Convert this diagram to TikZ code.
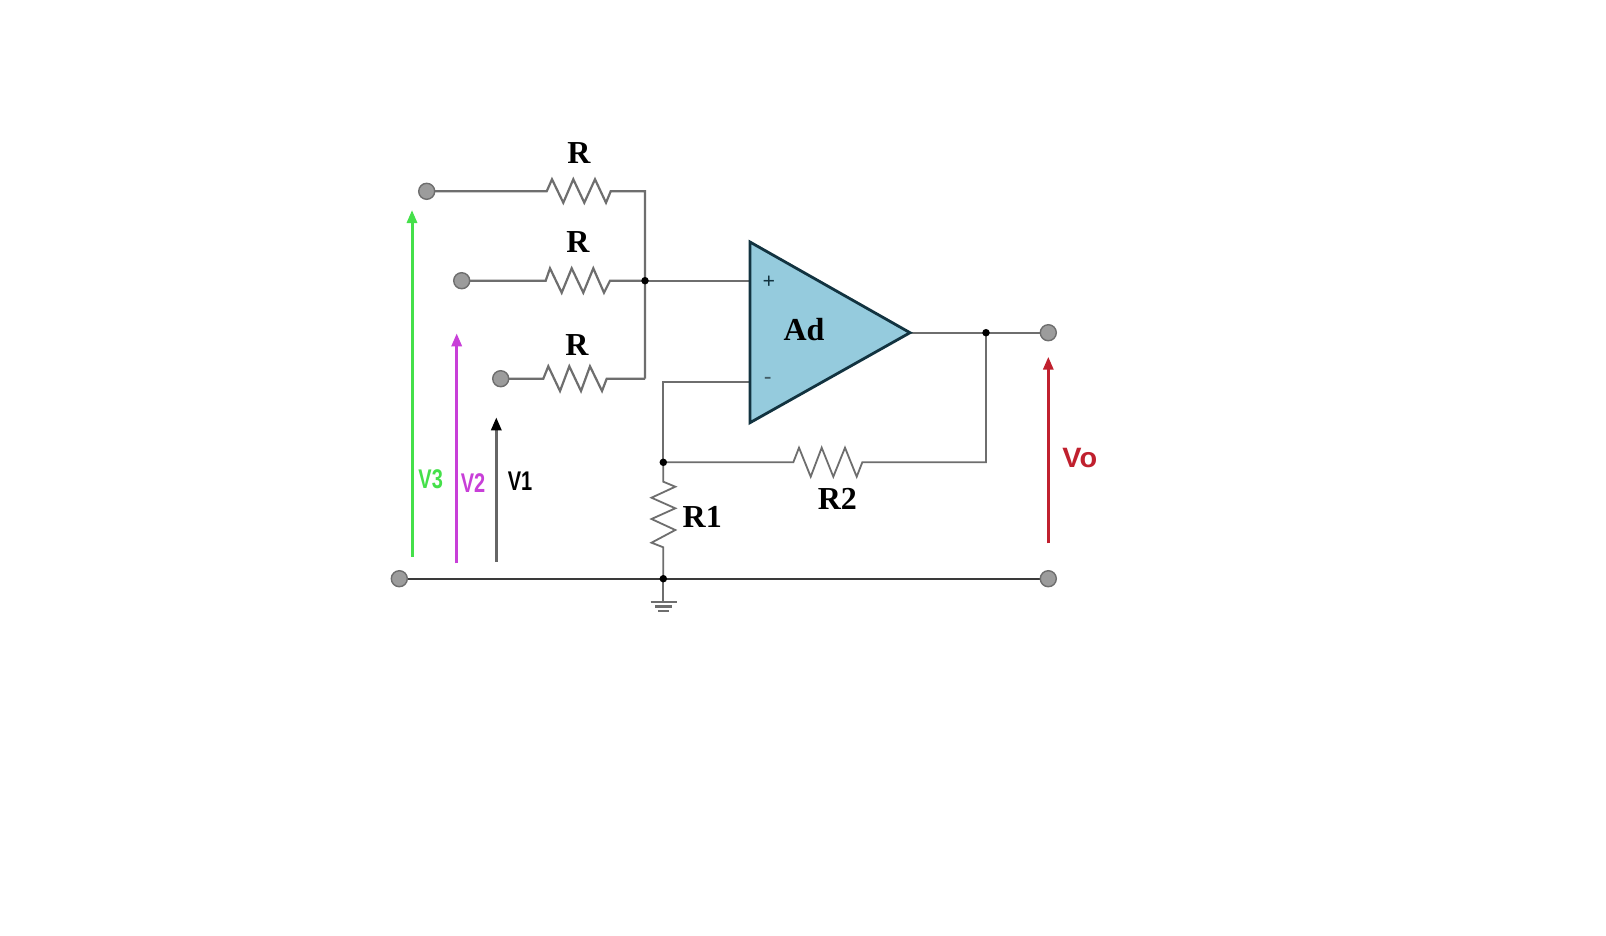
\documentclass[tikz,border=0pt]{standalone}
\usepackage{fontspec}
\setmainfont{Liberation Serif}
\newfontfamily\lsans{Liberation Sans}
\usetikzlibrary{arrows.meta,backgrounds}
\definecolor{wirec}{HTML}{6E6E6E}
\definecolor{darkw}{HTML}{3A3A3A}
\definecolor{ampfill}{HTML}{95CBDD}
\definecolor{ampedge}{HTML}{123340}
\definecolor{vgreen}{HTML}{45E04A}
\definecolor{vmag}{HTML}{C83FD8}
\definecolor{vred}{HTML}{C0202E}
\tikzset{
 x=1pt,y=-1pt,
 wire/.style={draw=wirec,line width=2.2pt,line join=miter},
 thin wire/.style={draw=wirec,line width=1.8pt,line join=miter},
 gnd wire/.style={draw=darkw,line width=2.4pt},
 terminal/.style={circle,draw=wirec,fill=gray!78,line width=1.4pt,minimum size=16pt,inner sep=0pt},
 junction/.style={circle,fill=black,minimum size=7.5pt,inner sep=0pt},
 rlabel/.style={inner sep=0pt,font=\fontsize{32}{32}\selectfont\bfseries,text=black},
 vlabel/.style={inner sep=0pt,font=\lsans\bfseries\fontsize{27}{27}\selectfont,xscale=0.74},
 varrow/.style={line width=3pt,-{Triangle[length=13pt,width=10pt]}},
}
\begin{document}
\begin{tikzpicture}
\useasboundingbox (0,0) rectangle (1606,935);

% nodes
\node[terminal] (t1) at (426.7,191.3) {};
\node[terminal] (t2) at (461.7,280.7) {};
\node[terminal] (t3) at (500.7,378.7) {};
\node[terminal] (tg) at (399.3,578.7) {};
\node[terminal] (to) at (1048.3,332.7) {};
\node[terminal] (tr) at (1048.3,578.7) {};
\coordinate (r1a) at (546.7,191.3);
\coordinate (r1b) at (610.7,191.3);
\coordinate (r2a) at (545.7,280.7);
\coordinate (r2b) at (610,280.7);
\coordinate (r3a) at (543.3,378.7);
\coordinate (r3b) at (606.7,378.7);
\coordinate (bt) at (645,191.3);
\coordinate (bb) at (645,378.7);
\node[junction] (jp) at (645,280.7) {};
\coordinate (ampt) at (750,242);
\coordinate (ampb) at (750,422.7);
\coordinate (ampo) at (910,332.7);
\coordinate (ampp) at (750,280.7);
\coordinate (ampm) at (750,381.7);
\coordinate (mc) at (663.3,381.7);
\node[junction] (jm) at (663.3,462.3) {};
\node[junction] (jo) at (986,332.7) {};
\coordinate (fbc) at (986,462.3);
\coordinate (r4a) at (793.3,462.3);
\coordinate (r4b) at (862.3,462.3);
\coordinate (r5a) at (663.3,481.7);
\coordinate (r5b) at (663.3,547.3);
\node[junction] (jg) at (663.3,578.7) {};
\coordinate (gt) at (663.3,601.7);

\begin{pgfonlayer}{background}
\fill[white] (0,0) rectangle (1606,935);
% wires with resistors
\draw[wire] (t1.center) -- (r1a) -- (552,179.3) -- (563.3,202.7) -- (573.3,179.3) -- (584.3,202.7) -- (595,179.3) -- (606,202.7) -- (r1b) -- (bt) -- (bb);
\draw[wire] (t2.center) -- (r2a) -- (550,268.3) -- (561.7,292.7) -- (571.7,268.3) -- (583.3,292.7) -- (593.3,268.3) -- (604,292.7) -- (r2b) -- (jp.center);
\draw[wire] (t3.center) -- (r3a) -- (548.3,366.3) -- (560,391) -- (569.3,366.3) -- (581,391) -- (590,366.3) -- (602,391) -- (r3b) -- (bb);
\draw[wire] (jp.center) -- (ampp);
\draw[wire] (ampm) -- (mc) -- (jm.center);
\draw[thin wire] (jm.center) -- (r4a) -- (799,447.7) -- (810.7,476.7) -- (821.7,447.7) -- (833.3,476.7) -- (845,447.7) -- (856.7,476.7) -- (r4b) -- (fbc) -- (jo.center);
\draw[wire] (ampo) -- (to.center);
\draw[thin wire] (jm.center) -- (r5a) -- (675.3,486.7) -- (651.5,497.7) -- (675.3,508.3) -- (651.5,519) -- (675.3,530) -- (651.5,542.7) -- (r5b) -- (jg.center);
\draw[gnd wire] (tg.center) -- (jg.center) -- (tr.center);
\draw[wire] (jg.center) -- (gt);
\coordinate (g1a) at (650.7,601.7); \coordinate (g1b) at (676.7,601.7);
\coordinate (g2a) at (655,606.3); \coordinate (g2b) at (671.5,606.3);
\coordinate (g3a) at (658,611); \coordinate (g3b) at (668.5,611);
\draw[wire] (g1a) -- (g1b);
\draw[wire,line width=2.6pt] (g2a) -- (g2b);
\draw[wire,line width=2.6pt] (g3a) -- (g3b);
\end{pgfonlayer}

% op-amp
\draw[fill=ampfill,draw=ampedge,line width=2.8pt,line join=miter] (ampt) -- (ampo) -- (ampb) -- cycle;
\node[inner sep=0pt,font=\bfseries\fontsize{22}{22}\selectfont,text=ampedge] (plus) at (769,282.5) {+};
\node[inner sep=0pt,font=\bfseries\fontsize{22}{22}\selectfont,text=ampedge!80] (minus) at (767.7,380.5) {-};
\node[rlabel] (ad) at (804,329.5) {Ad};

% labels
\node[rlabel] (lr1) at (579,152.8) {R};
\node[rlabel] (lr2) at (578,241.7) {R};
\node[rlabel] (lr3) at (577,344.8) {R};
\node[rlabel] (lr4) at (702.2,516.7) {R1};
\node[rlabel] (lr5) at (837.3,499.3) {R2};

% voltage arrows
\coordinate (v3a) at (412,556.7); \coordinate (v3b) at (412,210);
\coordinate (v2a) at (456.7,563.3); \coordinate (v2b) at (456.7,333.3);
\coordinate (v1a) at (496.3,561.7); \coordinate (v1b) at (496.3,417.3);
\coordinate (voa) at (1048.3,543.3); \coordinate (vob) at (1048.3,356.7);
\draw[varrow,vgreen] (v3a) -- (v3b);
\draw[varrow,vmag] (v2a) -- (v2b);
\draw[varrow,black!60,-{Triangle[length=13pt,width=10pt,color=black]}] (v1a) -- (v1b);
\draw[varrow,vred] (voa) -- (vob);
\node[vlabel,text=vgreen] (lv3) at (430.7,479.3) {V3};
\node[vlabel,text=vmag] (lv2) at (473,482.7) {V2};
\node[vlabel,text=black] (lv1) at (520,481.7) {V1};
\node[inner sep=0pt,font=\lsans\bfseries\fontsize{28}{28}\selectfont,text=vred,xscale=1.03] (lvo) at (1079.8,458.3) {Vo};
\end{tikzpicture}
\end{document}
